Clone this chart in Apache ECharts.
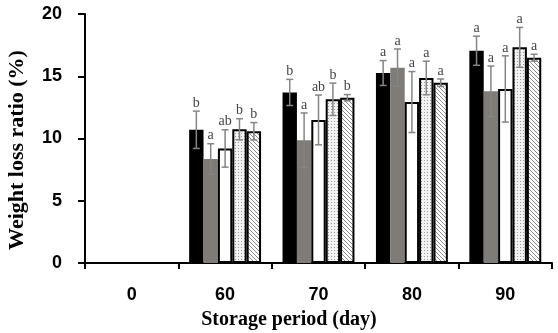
<!DOCTYPE html>
<html><head><meta charset="utf-8">
<script src="https://cdn.jsdelivr.net/npm/echarts@6/dist/echarts.min.js"></script>
<style>html,body{margin:0;padding:0;background:#fff}#c{width:558px;height:333px}</style>
</head><body><div id="c"></div>
<script>
var categories = ['0', '60', '70', '80', '90'];
var seriesNames = ['T1', 'T2', 'T3', 'T4', 'T5'];
var values = [
  [0, 10.7, 13.7, 15.26, 17.05],
  [0, 8.35, 9.85, 15.69, 13.79],
  [0, 9.2, 11.49, 12.93, 13.98],
  [0, 10.74, 13.15, 14.86, 17.32],
  [0, 10.58, 13.28, 14.48, 16.49]
];
var errors = [
  [null, 1.5, 1.05, 1.0, 1.17],
  [null, 1.23, 2.2, 1.5, 2.03],
  [null, 1.5, 2.0, 2.45, 2.66],
  [null, 0.85, 1.3, 1.35, 1.6],
  [null, 0.7, 0.25, 0.3, 0.28]
];
var letters = [
  ['', 'b', 'b', 'a', 'a'],
  ['', 'a', 'a', 'a', 'a'],
  ['', 'ab', 'ab', 'a', 'a'],
  ['', 'b', 'b', 'a', 'a'],
  ['', 'b', 'b', 'a', 'a']
];
var yTicks = [0, 5, 10, 15, 20];
var xTitle = 'Storage period (day)';
var yTitle = 'Weight loss ratio (%)';

function dotPattern() {
  var c = document.createElement('canvas'); c.width = 3; c.height = 3;
  var g = c.getContext('2d');
  g.fillStyle = '#f2f2f2'; g.fillRect(0, 0, 3, 3);
  g.fillStyle = '#9a9a9a'; g.fillRect(1, 1, 1, 1);
  return c;
}
function hatchPattern() {
  var c = document.createElement('canvas'); c.width = 4; c.height = 4;
  var g = c.getContext('2d');
  g.fillStyle = '#ffffff'; g.fillRect(0, 0, 4, 4);
  g.fillStyle = '#8a8a8a';
  for (var i = 0; i < 4; i++) { g.fillRect(i, i, 1, 1); }
  return c;
}
var fills = [
  '#000000',
  '#7f7c77',
  '#ffffff',
  { image: dotPattern(), repeat: 'repeat' },
  { image: hatchPattern(), repeat: 'repeat' }
];
var borders = [0, 0, 2, 2, 2];
var GAP = 0.23;
var n = seriesNames.length;

var series = [];
seriesNames.forEach(function (name, s) {
  series.push({
    name: name, type: 'bar', data: values[s], barGap: '0%', barCategoryGap: (GAP * 100) + '%',
    itemStyle: { color: fills[s], borderColor: '#000', borderWidth: borders[s] },
    animation: false, z: 2
  });
});
seriesNames.forEach(function (name, s) {
  var d = values[s].map(function (v, i) { return [i, v, errors[s][i]]; });
  series.push({
    type: 'custom', data: d, z: 5, animation: false, silent: true,
    renderItem: function (params, api) {
      var cat = api.value(0), v = api.value(1), e = api.value(2);
      if (e == null || isNaN(e)) return null;
      var band = api.size([1, 0])[0];
      var bw = band * (1 - GAP) / n;
      var cx = api.coord([cat, 0])[0] - band * (1 - GAP) / 2 + bw * (s + 0.5);
      var yt = api.coord([cat, v + e])[1];
      var yb = api.coord([cat, v - e])[1];
      var cw = 3.5;
      var st = { stroke: '#858585', lineWidth: 1.5 };
      var letter = letters[s][cat];
      return {
        type: 'group', children: [
          { type: 'line', shape: { x1: cx, y1: yt, x2: cx, y2: yb }, style: st },
          { type: 'line', shape: { x1: cx - cw, y1: yt, x2: cx + cw, y2: yt }, style: st },
          { type: 'line', shape: { x1: cx - cw, y1: yb, x2: cx + cw, y2: yb }, style: st },
          { type: 'text', style: { text: letter, x: cx, y: yt - 1, align: 'center', verticalAlign: 'bottom',
            font: '14px "Liberation Serif", serif', fill: '#444' } }
        ]
      };
    }
  });
});

var chart = echarts.init(document.getElementById('c'), null, { renderer: 'canvas' });
chart.setOption({
  backgroundColor: '#fff',
  grid: { left: 85, right: 6, top: 14, bottom: 70, containLabel: false },
  graphic: [
    { type: 'text', x: 289, y: 320, silent: true,
      style: { text: xTitle, align: 'center', verticalAlign: 'middle', fill: '#000',
        font: 'bold 20px "Liberation Serif", "Times New Roman", serif' } },
    { type: 'text', x: 17, y: 150, rotation: Math.PI / 2, silent: true,
      style: { text: yTitle, align: 'center', verticalAlign: 'middle', fill: '#000',
        font: 'bold 22px "Liberation Serif", "Times New Roman", serif' } }
  ],
  xAxis: {
    type: 'category', data: categories,
    axisLine: { lineStyle: { color: '#000', width: 2 } },
    axisTick: { show: true, length: 6, lineStyle: { color: '#000', width: 2 } },
    axisLabel: { margin: 23, color: '#000', fontSize: 18, fontWeight: 'bold', fontFamily: '"Liberation Sans", Arial, sans-serif' }
  },
  yAxis: {
    type: 'value', min: 0, max: 20, interval: 5,
    axisLine: { show: true, lineStyle: { color: '#000', width: 2 } },
    axisTick: { show: true, length: 7, lineStyle: { color: '#000', width: 2 } },
    splitLine: { show: false },
    axisLabel: { margin: 23, color: '#000', fontSize: 18, fontWeight: 'bold', fontFamily: '"Liberation Sans", Arial, sans-serif',
      formatter: function (v) { return yTicks.indexOf(v) >= 0 ? String(v) : ''; } }
  },
  series: series
});
</script></body></html>
